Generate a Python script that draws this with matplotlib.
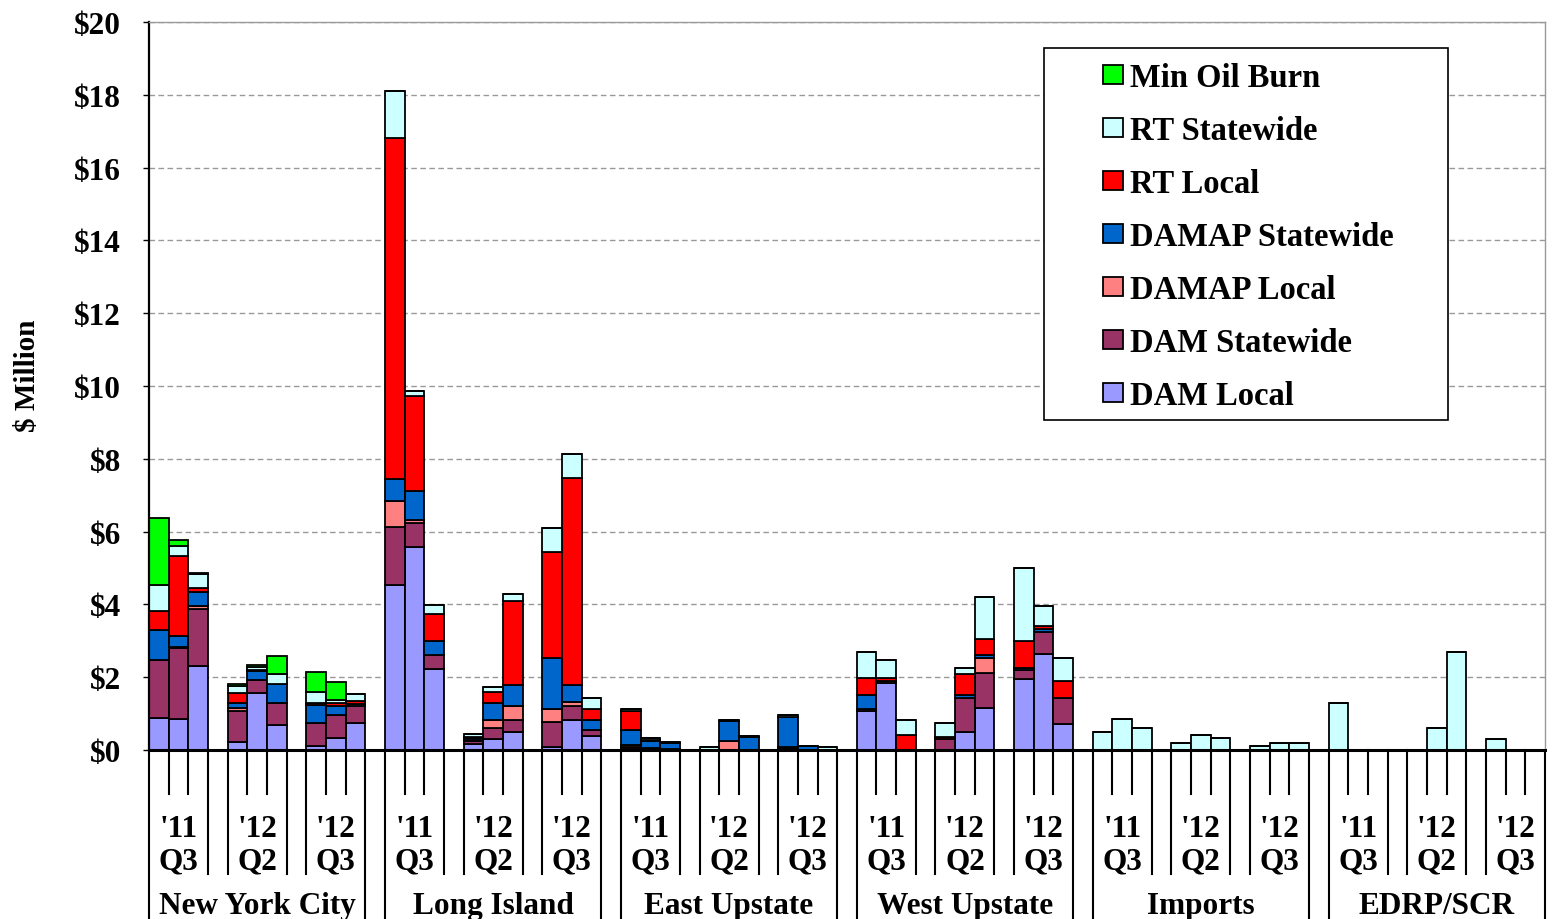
import numpy as np
import matplotlib
matplotlib.use("Agg")
import matplotlib.pyplot as plt
from matplotlib.patches import Rectangle
import matplotlib.transforms as mtransforms

plt.rcParams['font.family'] = ['Liberation Serif', 'DejaVu Serif']
plt.rcParams['font.weight'] = 'bold'

regions = ["New York City", "Long Island", "East Upstate", "West Upstate", "Imports", "EDRP/SCR"]
quarters = ["'11\nQ3", "'12\nQ2", "'12\nQ3"]
yticks_vals = [0, 2, 4, 6, 8, 10, 12, 14, 16, 18, 20]
ytick_labels = ["$0", "$2", "$4", "$6", "$8", "$10", "$12", "$14", "$16", "$18", "$20"]

# 54 monthly bars: region x quarter x month
dam_local = [0.87, 0.85, 2.30, 0.21, 1.57, 0.69, 0.12, 0.34, 0.74,
             4.54, 5.58, 2.22, 0.16, 0.29, 0.50, 0.09, 0.82, 0.38,
             0.03, 0.03, 0.02, 0.00, 0.00, 0.00, 0.00, 0.00, 0.00,
             1.07, 1.85, 0.01, 0.00, 0.49, 1.15, 1.94, 2.63, 0.72,
             0, 0, 0, 0, 0, 0, 0, 0, 0,
             0, 0, 0, 0, 0, 0, 0, 0, 0]
dam_statewide = [1.61, 1.94, 1.57, 0.86, 0.34, 0.60, 0.62, 0.62, 0.48,
                 1.59, 0.65, 0.40, 0.09, 0.32, 0.33, 0.69, 0.38, 0.18,
                 0.05, 0.02, 0.00, 0.00, 0.00, 0.00, 0.06, 0.00, 0.00,
                 0.05, 0.05, 0.00, 0.29, 0.93, 0.96, 0.26, 0.61, 0.70,
                 0, 0, 0, 0, 0, 0, 0, 0, 0,
                 0, 0, 0, 0, 0, 0, 0, 0, 0]
damap_local = [0.00, 0.05, 0.08, 0.08, 0.00, 0.00, 0.00, 0.00, 0.00,
               0.71, 0.10, 0.00, 0.02, 0.22, 0.38, 0.36, 0.12, 0.00,
               0.06, 0.00, 0.00, 0.00, 0.25, 0.00, 0.03, 0.00, 0.00,
               0.00, 0.00, 0.00, 0.00, 0.00, 0.43, 0.00, 0.00, 0.00,
               0, 0, 0, 0, 0, 0, 0, 0, 0,
               0, 0, 0, 0, 0, 0, 0, 0, 0]
damap_statewide = [0.82, 0.28, 0.40, 0.14, 0.26, 0.53, 0.50, 0.26, 0.05,
                   0.60, 0.78, 0.38, 0.07, 0.46, 0.57, 1.39, 0.47, 0.26,
                   0.41, 0.20, 0.18, 0.00, 0.55, 0.36, 0.83, 0.10, 0.00,
                   0.39, 0.00, 0.00, 0.00, 0.09, 0.06, 0.06, 0.08, 0.00,
                   0, 0, 0, 0, 0, 0, 0, 0, 0,
                   0, 0, 0, 0, 0, 0, 0, 0, 0]
rt_local = [0.52, 2.20, 0.09, 0.28, 0.03, 0.00, 0.04, 0.07, 0.08,
            9.36, 2.62, 0.74, 0.02, 0.30, 2.32, 2.92, 5.67, 0.32,
            0.53, 0.02, 0.00, 0.00, 0.00, 0.00, 0.00, 0.00, 0.00,
            0.48, 0.09, 0.40, 0.08, 0.57, 0.44, 0.73, 0.10, 0.48,
            0, 0, 0, 0, 0, 0, 0, 0, 0,
            0, 0, 0, 0, 0, 0, 0, 0, 0]
rt_statewide = [0.71, 0.29, 0.40, 0.20, 0.08, 0.28, 0.32, 0.08, 0.18,
                1.30, 0.12, 0.23, 0.07, 0.15, 0.18, 0.66, 0.66, 0.29,
                0.04, 0.06, 0.02, 0.07, 0.02, 0.02, 0.03, 0.02, 0.07,
                0.70, 0.48, 0.41, 0.36, 0.18, 1.17, 2.01, 0.54, 0.63,
                0.50, 0.86, 0.60, 0.20, 0.42, 0.33, 0.11, 0.20, 0.20,
                1.29, 0.00, 0.00, 0.00, 0.60, 2.69, 0.30, 0.00, 0.00]
min_oil_burn = [1.84, 0.15, 0.02, 0.05, 0.06, 0.47, 0.53, 0.51, 0.00,
                0, 0, 0, 0, 0, 0, 0, 0, 0,
                0, 0, 0, 0, 0, 0, 0, 0, 0,
                0, 0, 0, 0, 0, 0, 0, 0, 0,
                0, 0, 0, 0, 0, 0, 0, 0, 0,
                0, 0, 0, 0, 0, 0, 0, 0, 0]

series = [
    ("DAM Local", dam_local, "#9999FF"),
    ("DAM Statewide", dam_statewide, "#993366"),
    ("DAMAP Local", damap_local, "#FF8080"),
    ("DAMAP Statewide", damap_statewide, "#0066CC"),
    ("RT Local", rt_local, "#FF0000"),
    ("RT Statewide", rt_statewide, "#CCFFFF"),
    ("Min Oil Burn", min_oil_burn, "#00FF00"),
]

n_reg, n_q, n_m = len(regions), len(quarters), 3
slots_per_q = n_m + 1
slots_per_reg = n_q * slots_per_q
r_idx, q_idx, m_idx = np.meshgrid(np.arange(n_reg), np.arange(n_q), np.arange(n_m), indexing='ij')
slot = (r_idx * slots_per_reg + q_idx * slots_per_q + m_idx).ravel()
xpos = slot + 0.5

fig = plt.figure(figsize=(15.53, 9.2), dpi=100)
ax = fig.add_axes([149/1553, 1-751/920, (1545-149)/1553, (751-23)/920])

bottom = np.zeros(len(xpos))
handles = []
for name, vals, col in series:
    v = np.array(vals, dtype=float)
    b = ax.bar(xpos, v, width=1.0, bottom=bottom, color=col, edgecolor='black',
               linewidth=1.3, label=name, zorder=2)
    handles.append(b)
    bottom += v

ax.set_xlim(0, n_reg * slots_per_reg - 1)
ax.set_ylim(0, 20)
ax.set_yticks(yticks_vals)
ax.set_yticklabels(ytick_labels, fontsize=22.5, fontweight='bold')
ax.tick_params(axis='y', length=4, width=1, pad=16, direction='out')
ax.set_xticks([])
ax.set_axisbelow(True)
ax.yaxis.grid(True, linestyle=(0, (4, 2.5)), color='#999999', linewidth=1.0, zorder=0)

for s in ['top', 'right']:
    ax.spines[s].set_color('#999999')
    ax.spines[s].set_linewidth(1.0)
ax.spines['left'].set_linewidth(1.6)
ax.spines['bottom'].set_linewidth(2.2)

ax.set_ylabel("$ Million", fontsize=21, fontweight='bold', va='center')
ax.yaxis.set_label_coords(-0.087, 0.515)

# category axis dividers and labels
trans = mtransforms.blended_transform_factory(ax.transData, ax.transAxes)
short_y, mid_y, long_y = -0.0604, -0.1703, -0.24
for r in range(n_reg):
    base = r * slots_per_reg
    reg_end = base + slots_per_reg - 1
    for q in range(n_q):
        qs = base + q * slots_per_q
        for k in (1, 2):
            ax.plot([qs + k, qs + k], [0, short_y], color='black', lw=1.5,
                    transform=trans, clip_on=False)
        for edge in (qs, qs + n_m):
            if edge in (base, reg_end):
                continue
            ax.plot([edge, edge], [0, mid_y], color='black', lw=1.5,
                    transform=trans, clip_on=False)
        ax.text(qs + 1.5, -0.1295, quarters[q], transform=trans, ha='center', va='center',
                fontsize=22.5, fontweight='bold', linespacing=1.16)
    for edge in (base, reg_end):
        ax.plot([edge, edge], [0, long_y], color='black', lw=1.5,
                transform=trans, clip_on=False)
    ax.text(base + (slots_per_reg - 1) / 2, -0.213, regions[r], transform=trans,
            ha='center', va='center', fontsize=22.5, fontweight='bold')

# legend box
box = Rectangle((0.641, 0.453), 0.2894, 0.511, transform=ax.transAxes,
                facecolor='white', edgecolor='black', linewidth=1.2, zorder=4)
ax.add_patch(box)
leg = ax.legend(handles[::-1], [s[0] for s in series][::-1], loc='upper left',
                bbox_to_anchor=(0.6834, 0.945), frameon=False, borderpad=0,
                borderaxespad=0, labelspacing=0.674,
                handlelength=0.6, handleheight=0.48, handletextpad=0.22,
                prop={'family': ['Liberation Serif', 'DejaVu Serif'], 'weight': 'bold', 'size': 23.5})
leg.set_zorder(5)

fig.savefig("out.png", dpi=100)
